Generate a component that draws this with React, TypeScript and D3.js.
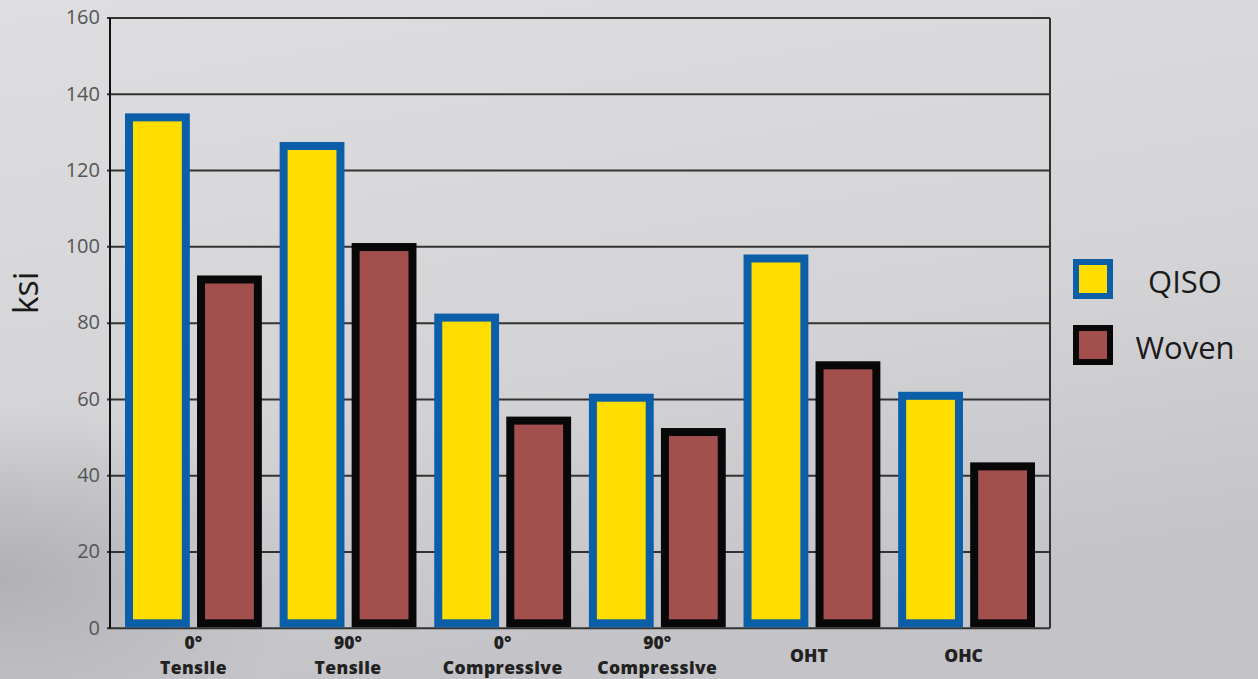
import React from "react";
import * as d3 from "d3";

const categories = [
  ["0°", "Tensile"],
  ["90°", "Tensile"],
  ["0°", "Compressive"],
  ["90°", "Compressive"],
  ["OHT"],
  ["OHC"],
];
const seriesNames = ["QISO", "Woven"];
const qisoValues = [135, 127.5, 82.5, 61.5, 98, 62];
const wovenValues = [92.5, 101, 55.5, 52.5, 70, 43.5];
const yTicks = [0, 20, 40, 60, 80, 100, 120, 140, 160];

const W = 1258;
const H = 679;
const plot = { left: 110, right: 1050, top: 18, bottom: 628.3 };

const fills = ["#FFDD00", "#A34F4E"];
const strokes = ["#0A5FA8", "#080808"];
const SW = 8;

export default function App() {
  const x = d3
    .scaleBand<number>()
    .domain(d3.range(categories.length))
    .range([plot.left, plot.right])
    .paddingInner(0.115)
    .paddingOuter(0.097);
  const xs = d3
    .scaleBand<string>()
    .domain(seriesNames)
    .range([0, x.bandwidth()])
    .paddingInner(0.1)
    .paddingOuter(0);
  const y = d3.scaleLinear().domain([0, 160]).range([plot.bottom, plot.top]);
  const values = [qisoValues, wovenValues];

  const font = "'Open Sans', 'DejaVu Sans', sans-serif";

  return (
    <svg
      width={W}
      height={H}
      style={{ position: "absolute", left: 0, top: 0, display: "block" }}
    >
      <defs>
        <linearGradient id="bg" x1="0" y1="0" x2="0.3" y2="1">
          <stop offset="0" stopColor="#dedee0" />
          <stop offset="0.6" stopColor="#d4d4d7" />
          <stop offset="1" stopColor="#c4c4c8" />
        </linearGradient>
        <radialGradient id="shade" cx="0" cy="0.85" r="0.25">
          <stop offset="0" stopColor="#a9a9ae" stopOpacity="0.8" />
          <stop offset="1" stopColor="#a9a9ae" stopOpacity="0" />
        </radialGradient>
      </defs>
      <rect x={0} y={0} width={W} height={H} fill="url(#bg)" />
      <rect x={0} y={0} width={W} height={H} fill="url(#shade)" />

      {/* gridlines */}
      {yTicks.map((t) => (
        <line
          key={"g" + t}
          x1={plot.left - 3}
          x2={plot.right}
          y1={y(t)}
          y2={y(t)}
          stroke="#333"
          strokeWidth={2}
        />
      ))}
      {/* axis frame */}
      <line x1={plot.left} x2={plot.left} y1={plot.top} y2={plot.bottom} stroke="#111" strokeWidth={2} />
      <line x1={plot.right} x2={plot.right} y1={plot.top} y2={plot.bottom} stroke="#333" strokeWidth={2} />

      {/* tick labels */}
      {yTicks.map((t) => (
        <text
          key={"t" + t}
          x={100}
          y={y(t) + 1}
          textAnchor="end"
          dominantBaseline="middle"
          fontFamily={font}
          fontSize={20}
          fill="#555"
        >
          {t}
        </text>
      ))}

      {/* y label */}
      <text
        transform={`translate(38,293) rotate(-90)`}
        textAnchor="middle"
        fontFamily={font}
        fontSize={34}
        fill="#1a1a1a"
      >
        ksi
      </text>

      {/* bars */}
      {categories.map((c, i) =>
        seriesNames.map((s, j) => {
          const x0 = (x(i) as number) + (xs(s) as number);
          const bw = xs.bandwidth();
          const top = y(values[j][i]);
          const bottom = y(0) - 1;
          return (
            <rect
              key={`b${i}-${j}`}
              x={x0 + SW / 2}
              y={top + SW / 2}
              width={bw - SW}
              height={bottom - top - SW}
              fill={fills[j]}
              stroke={strokes[j]}
              strokeWidth={SW}
            />
          );
        })
      )}

      {/* category labels */}
      {categories.map((c, i) => {
        const cx = (x(i) as number) + x.bandwidth() / 2;
        if (c.length === 2) {
          return (
            <g key={"c" + i}>
              <text
                x={cx}
                y={649}
                textAnchor="middle"
                fontFamily={font}
                fontWeight={800}
                fontSize={17.5}
                fill="#222"
              >
                {c[0]}
              </text>
              <text
                x={cx}
                y={673.5}
                textAnchor="middle"
                fontFamily={font}
                fontWeight={800}
                fontSize={17.5}
                fill="#222"
                letterSpacing={0.4}
              >
                {c[1]}
              </text>
            </g>
          );
        }
        return (
          <text
            key={"c" + i}
            x={cx - 3}
            y={662}
            textAnchor="middle"
            fontFamily={font}
            fontWeight={800}
            fontSize={17.5}
            fill="#222"
          >
            {c[0]}
          </text>
        );
      })}

      {/* legend */}
      {seriesNames.map((s, j) => {
        const ly = 259 + j * 66;
        return (
          <g key={"l" + s}>
            <rect
              x={1073 + 3}
              y={ly + 3}
              width={40 - 6}
              height={40 - 6}
              fill={fills[j]}
              stroke={strokes[j]}
              strokeWidth={6}
            />
            <text
              x={1185}
              y={ly + 34}
              textAnchor="middle"
              fontFamily={font}
              fontSize={31}
              fill="#1a1a1a"
            >
              {s}
            </text>
          </g>
        );
      })}
    </svg>
  );
}
